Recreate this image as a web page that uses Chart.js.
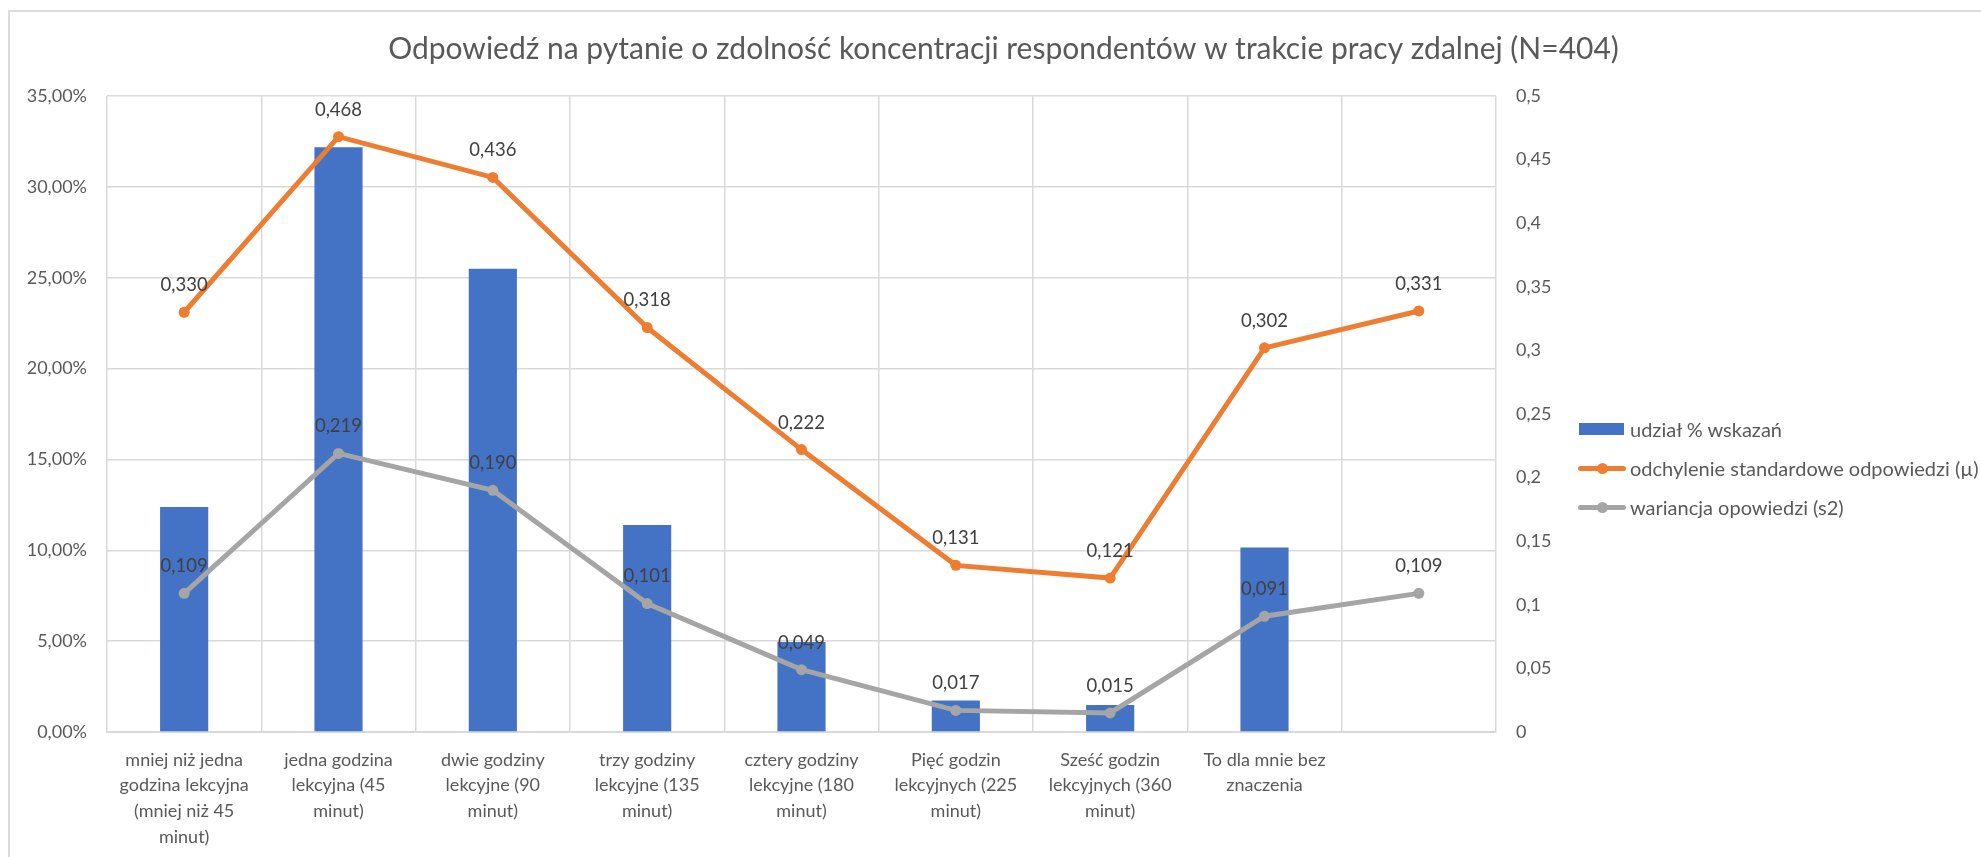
<!DOCTYPE html>
<html>
<head>
<meta charset="utf-8">
<script src="https://cdn.jsdelivr.net/npm/chart.js@4/dist/chart.umd.min.js"></script>
<style>
  html, body { margin: 0; padding: 0; background: #ffffff; }
  body { width: 1981px; height: 857px; position: relative; overflow: hidden; font-family: Lato, "Open Sans", sans-serif; }
  #frame { position: absolute; left: 8px; top: 10px; width: 1990px; height: 900px; border-top: 2px solid #dcdcdc; border-left: 2px solid #dcdcdc; box-sizing: border-box; }
  #c { position: absolute; left: 0; top: 0; }
  .leg { position: absolute; left: 1578px; height: 22px; width: 403px; color: #595959; font-size: 20px; line-height: 22px; white-space: nowrap; }
  .leg .txt { position: absolute; left: 52px; top: 0; }
  .leg .box { position: absolute; left: 1px; top: 5px; width: 45px; height: 12px; }
  .leg .ln { position: absolute; left: 0; top: 8.5px; width: 48px; height: 5px; border-radius: 2.5px; }
  .leg .dot { position: absolute; left: 18.5px; top: 5.5px; width: 11px; height: 11px; border-radius: 50%; }
</style>
</head>
<body>
<div id="frame"></div>
<canvas id="c" width="1981" height="857"></canvas>
<div class="leg" style="top:418px"><div class="box" style="background:#4472C4"></div><div class="txt">udział % wskazań</div></div>
<div class="leg" style="top:457px"><div class="ln" style="background:#ED7D31"></div><div class="dot" style="background:#ED7D31"></div><div class="txt">odchylenie standardowe odpowiedzi (µ)</div></div>
<div class="leg" style="top:496px"><div class="ln" style="background:#A5A5A5"></div><div class="dot" style="background:#A5A5A5"></div><div class="txt">wariancja opowiedzi (s2)</div></div>
<script>
// ---- data ----
const categories = [
  ["mniej niż jedna", "godzina lekcyjna", "(mniej niż 45", "minut)"],
  ["jedna godzina", "lekcyjna (45", "minut)"],
  ["dwie godziny", "lekcyjne (90", "minut)"],
  ["trzy godziny", "lekcyjne (135", "minut)"],
  ["cztery godziny", "lekcyjne (180", "minut)"],
  ["Pięć godzin", "lekcyjnych (225", "minut)"],
  ["Sześć godzin", "lekcyjnych (360", "minut)"],
  ["To dla mnie bez", "znaczenia"],
  ""
];
const seriesNames = ["udział % wskazań", "odchylenie standardowe odpowiedzi (µ)", "wariancja opowiedzi (s2)"];
const shareValues = [12.38, 32.18, 25.50, 11.39, 4.95, 1.73, 1.49, 10.15, null];
const stdDevValues = [0.330, 0.468, 0.436, 0.318, 0.222, 0.131, 0.121, 0.302, 0.331];
const varianceValues = [0.109, 0.219, 0.190, 0.101, 0.049, 0.017, 0.015, 0.091, 0.109];
const leftTickLabels = ["0,00%", "5,00%", "10,00%", "15,00%", "20,00%", "25,00%", "30,00%", "35,00%"];
const rightTickLabels = ["0", "0,05", "0,1", "0,15", "0,2", "0,25", "0,3", "0,35", "0,4", "0,45", "0,5"];
const titleText = "Odpowiedź na pytanie o zdolność koncentracji respondentów w trakcie pracy zdalnej (N=404)";

const FONT = "Lato";
const GRID = "#d9d9d9";

const labelPlugin = {
  id: "valueLabels",
  afterDatasetsDraw(chart) {
    const ctx = chart.ctx;
    ctx.save();
    ctx.font = "18.5px " + FONT;
    ctx.fillStyle = "#404040";
    ctx.textAlign = "center";
    ctx.textBaseline = "middle";
    [1, 2].forEach(di => {
      const meta = chart.getDatasetMeta(di);
      const data = chart.data.datasets[di].data;
      meta.data.forEach((pt, i) => {
        if (data[i] == null) return;
        ctx.fillText(data[i].toFixed(3).replace(".", ","), pt.x, pt.y - 27);
      });
    });
    ctx.restore();
  }
};

new Chart(document.getElementById("c"), {
  data: {
    labels: categories,
    datasets: [
      { type: "bar", label: seriesNames[0], data: shareValues, backgroundColor: "#4472C4",
        yAxisID: "y", order: 2, categoryPercentage: 1, barPercentage: 0.312 },
      { type: "line", label: seriesNames[1], data: stdDevValues, borderColor: "#ED7D31", backgroundColor: "#ED7D31",
        borderWidth: 5, pointRadius: 5.5, pointBackgroundColor: "#ED7D31", pointBorderColor: "#ED7D31", pointBorderWidth: 0,
        yAxisID: "y1", order: 1, tension: 0 },
      { type: "line", label: seriesNames[2], data: varianceValues, borderColor: "#A5A5A5", backgroundColor: "#A5A5A5",
        borderWidth: 5, pointRadius: 5.5, pointBackgroundColor: "#A5A5A5", pointBorderColor: "#A5A5A5", pointBorderWidth: 0,
        yAxisID: "y1", order: 1, tension: 0 }
    ]
  },
  options: {
    responsive: false,
    animation: false,
    devicePixelRatio: 1,
    layout: { padding: { left: 26, right: 0, top: 0, bottom: 0 } },
    plugins: {
      legend: { display: false },
      tooltip: { enabled: false },
      title: { display: true, text: titleText, color: "#595959",
        font: { family: FONT, size: 30, weight: "normal" }, padding: { top: 31, bottom: 29 } }
    },
    scales: {
      x: {
        grid: { offset: true, color: GRID, lineWidth: 1.5, drawTicks: false },
        border: { color: GRID, width: 2 },
        ticks: { color: "#595959", font: { family: FONT, size: 18, lineHeight: 1.43 }, padding: 15, maxRotation: 0, autoSkip: false },
        afterFit(s) { s.height = 125; }
      },
      y: {
        position: "left", min: 0, max: 35,
        grid: { color: GRID, lineWidth: 1.5, drawTicks: false },
        border: { display: false },
        ticks: { stepSize: 5, color: "#595959", font: { family: FONT, size: 18 }, padding: 20,
          callback: (v, i) => leftTickLabels[i] },
        afterFit(s) { s.width = 81; }
      },
      y1: {
        position: "right", min: 0, max: 0.5,
        grid: { display: false, drawTicks: false },
        border: { display: false },
        ticks: { stepSize: 0.05, color: "#595959", font: { family: FONT, size: 18 }, padding: 20,
          callback: (v, i) => rightTickLabels[i] },
        afterFit(s) { s.width = 485; }
      }
    }
  },
  plugins: [labelPlugin]
});
</script>
</body>
</html>
